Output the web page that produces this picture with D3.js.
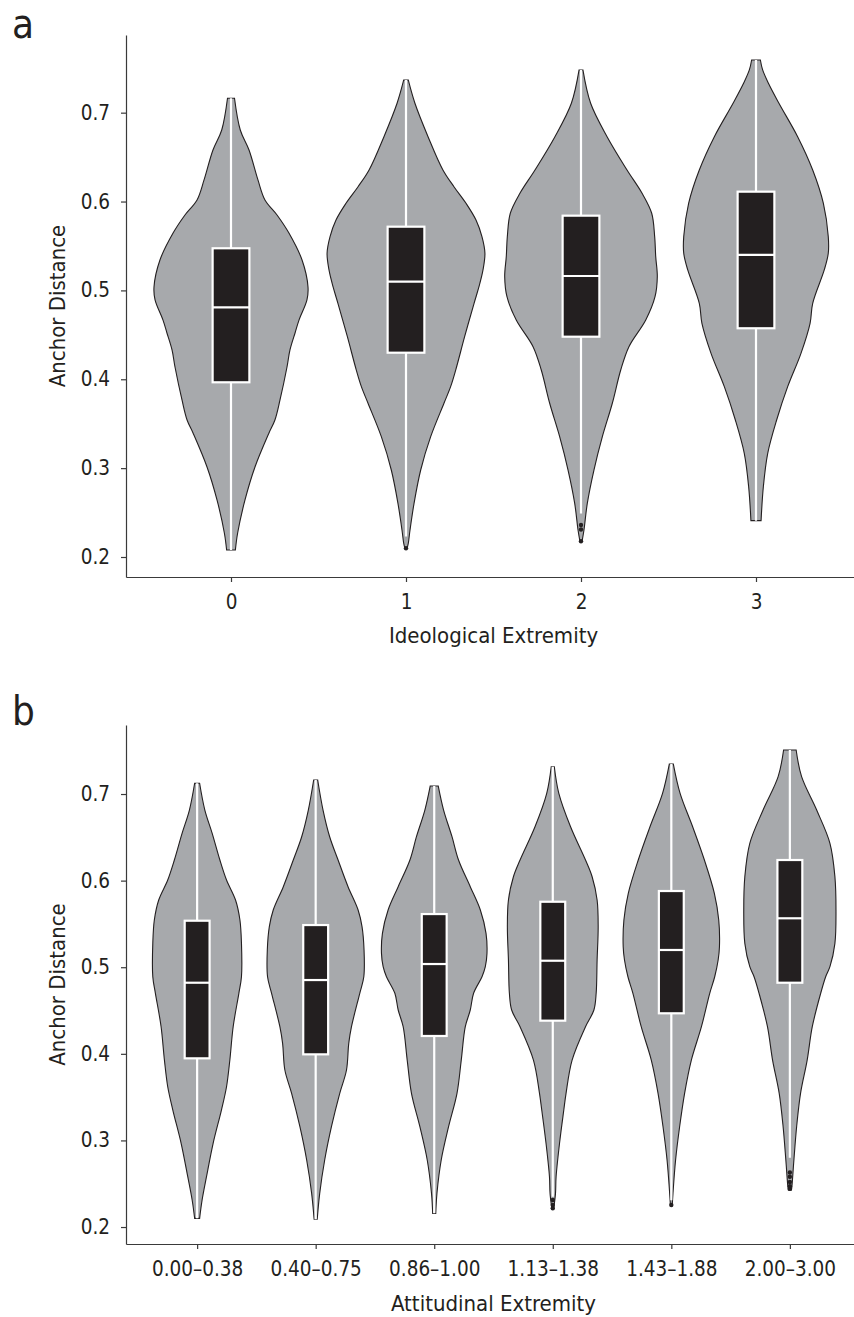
<!DOCTYPE html>
<html lang="en">
<head>
<meta charset="UTF-8">
<title>Anchor Distance by Extremity</title>
<script src="https://d3js.org/d3.v7.min.js"></script>
<style>
    body { margin: 0; background: #fff; }
    svg text {
        font-family: "DejaVu Sans Condensed", "DejaVu Sans", sans-serif;
        font-stretch: condensed;
        fill: #231f20;
    }
    .axis path, .axis line { stroke: #3a3a3a; stroke-width: 1.2; }
    .axis text { font-size: 20.5px; }
</style>
</head>
<body>
<svg width="854" height="1317"></svg>
<script>
// tick values (shared by both panels)
const yTicks = [0.2, 0.3, 0.4, 0.5, 0.6, 0.7];

// ---- panel a : Ideological Extremity ----
const catsA = ["0", "1", "2", "3"];
// violin outlines: [anchor distance, half width in category units]
const violinA0 = [[0.7162,0.020],[0.6805,0.053],[0.658,0.103],[0.6243,0.154],[0.6018,0.194],[0.5849,0.263],[0.5646,0.331],
    [0.5342,0.406],[0.5039,0.440],[0.4893,0.434],[0.4668,0.389],[0.4521,0.366],[0.433,0.337],[0.4138,0.320],
    [0.3767,0.280],[0.3542,0.251],[0.3396,0.217],[0.3013,0.137],[0.2642,0.080],[0.227,0.038],[0.2079,0.025]];
const violinA1 = [[0.7368,0.013],[0.7106,0.051],[0.673,0.126],[0.6355,0.211],[0.6167,0.274],[0.598,0.343],[0.5792,0.400],
    [0.5605,0.434],[0.5418,0.451],[0.523,0.440],[0.5042,0.417],[0.4855,0.389],[0.4479,0.335],[0.4104,0.284],
    [0.3917,0.255],[0.373,0.217],[0.3354,0.141],[0.2979,0.084],[0.2604,0.046],[0.2304,0.023],[0.2154,0.013],[0.2098,0.006]];
const violinA2 = [[0.7481,0.011],[0.7106,0.055],[0.673,0.149],[0.6355,0.263],[0.6093,0.349],[0.5868,0.404],[0.5605,0.421],
    [0.538,0.427],[0.5154,0.436],[0.4929,0.423],[0.4667,0.370],[0.4367,0.274],[0.4104,0.227],[0.373,0.179],
    [0.3354,0.122],[0.2979,0.074],[0.2604,0.036],[0.2304,0.017],[0.2177,0.006]];
const violinA3 = [[0.7593,0.025],[0.7481,0.038],[0.7331,0.071],[0.7106,0.131],[0.673,0.238],[0.6355,0.324],[0.598,0.385],
    [0.5605,0.413],[0.5418,0.413],[0.523,0.390],[0.4855,0.324],[0.463,0.309],[0.4292,0.257],[0.3917,0.181],
    [0.3542,0.118],[0.3167,0.067],[0.2791,0.042],[0.2409,0.029]];
const q1A = [0.3966, 0.4299, 0.4479, 0.4574];
const medA = [0.4810, 0.5098, 0.5162, 0.5399];
const q3A = [0.5474, 0.5717, 0.5841, 0.6111];
const lowA = [0.2079, 0.223, 0.249, 0.2409];
const highA = [0.7162, 0.7368, 0.7481, 0.7593];
const outA = [[], [0.2098], [0.236, 0.231, 0.2177], []];

// ---- panel b : Attitudinal Extremity ----
const catsB = ["0.00\u20130.38", "0.40\u20130.75", "0.86\u20131.00", "1.13\u20131.38", "1.43\u20131.88", "2.00\u20133.00"];
const violinB0 = [[0.7124,0.021],[0.6815,0.065],[0.6546,0.127],[0.6238,0.192],[0.6007,0.248],[0.5776,0.324],[0.5545,0.361],
    [0.5276,0.374],[0.489,0.374],[0.4699,0.352],[0.4313,0.304],[0.3928,0.276],[0.362,0.248],[0.3351,0.205],
    [0.2967,0.135],[0.2581,0.079],[0.2312,0.042],[0.21,0.021]];
const violinB1 = [[0.7162,0.017],[0.6815,0.062],[0.6507,0.118],[0.6238,0.189],[0.593,0.273],[0.5661,0.358],[0.5468,0.391],
    [0.5199,0.408],[0.489,0.406],[0.4699,0.372],[0.4313,0.302],[0.4121,0.279],[0.3813,0.260],[0.3544,0.203],
    [0.3158,0.133],[0.2774,0.076],[0.2389,0.034],[0.2089,0.013]];
const violinB2 = [[0.7092,0.034],[0.6815,0.079],[0.6507,0.150],[0.6238,0.205],[0.593,0.304],[0.5661,0.389],[0.5391,0.437],
    [0.516,0.445],[0.5006,0.431],[0.489,0.403],[0.4699,0.332],[0.4506,0.304],[0.4313,0.262],[0.3928,0.228],
    [0.3544,0.192],[0.3158,0.121],[0.2774,0.059],[0.2389,0.023],[0.2158,0.013]];
const violinB3 = [[0.7315,0.013],[0.7008,0.051],[0.6622,0.150],[0.6238,0.276],[0.6045,0.332],[0.5776,0.374],[0.5468,0.383],
    [0.5083,0.374],[0.4699,0.366],[0.4506,0.347],[0.4313,0.276],[0.3928,0.163],[0.3544,0.112],[0.3351,0.093],
    [0.2967,0.057],[0.2581,0.028],[0.2389,0.023],[0.2216,0.008]];
const violinB4 = [[0.7346,0.017],[0.7008,0.074],[0.6622,0.180],[0.6238,0.279],[0.5853,0.363],[0.5545,0.400],[0.5237,0.406],
    [0.5083,0.395],[0.489,0.366],[0.4699,0.324],[0.4313,0.254],[0.3928,0.169],[0.3544,0.112],[0.3158,0.070],
    [0.2774,0.036],[0.2389,0.014],[0.2254,0.008]];
const violinB5 = [[0.7508,0.053],[0.72,0.099],[0.6815,0.226],[0.6431,0.338],[0.6045,0.380],[0.5661,0.389],[0.5276,0.380],
    [0.5006,0.338],[0.489,0.302],[0.4699,0.260],[0.4313,0.189],[0.3928,0.146],[0.3544,0.090],[0.3158,0.057],
    [0.2774,0.034],[0.2465,0.017],[0.2427,0.013]];
const q1B = [0.3948, 0.3994, 0.4206, 0.4383, 0.4468, 0.4821];
const medB = [0.4821, 0.4852, 0.5037, 0.5075, 0.5199, 0.5565];
const q3B = [0.5537, 0.5487, 0.5614, 0.5756, 0.5880, 0.6238];
const lowB = [0.21, 0.2089, 0.2158, 0.235, 0.231, 0.28];
const highB = [0.7124, 0.7162, 0.7092, 0.7315, 0.7346, 0.7508];
const outB = [[], [], [], [0.2312, 0.2254, 0.2216], [0.2254], [0.263, 0.258, 0.252, 0.247, 0.244]];

const svg = d3.select("svg");
const boxWidth = 0.21;   // in category units

function drawPanel(p) {
    const x = d3.scalePoint().domain(p.cats).range([p.left, p.right]).padding(0.6);
    const y = d3.scaleLinear().domain(p.yDomain).range([p.bottom, p.top]);
    const step = x.step();
    const g = svg.append("g");

    p.violins.forEach((vd, i) => {
        const cx = x(p.cats[i]);
        const area = d3.area()
            .y(d => y(d[0]))
            .x0(d => cx - d[1] * step)
            .x1(d => cx + d[1] * step)
            .curve(d3.curveCatmullRom.alpha(0.5));
        g.append("path")
            .attr("d", area(vd))
            .attr("fill", "#a7a9ac")
            .attr("stroke", "#231f20")
            .attr("stroke-width", 1.1);

        // whisker
        g.append("line")
            .attr("x1", cx).attr("x2", cx)
            .attr("y1", y(p.low[i])).attr("y2", y(p.high[i]))
            .attr("stroke", "#fff").attr("stroke-width", 2.2);

        // outliers
        g.selectAll(null).data(p.out[i]).enter().append("circle")
            .attr("cx", cx).attr("cy", d => y(d)).attr("r", 2.2)
            .attr("fill", "#231f20");

        // box
        const bw = boxWidth * step;
        g.append("rect")
            .attr("x", cx - bw / 2).attr("width", bw)
            .attr("y", y(p.q3[i])).attr("height", y(p.q1[i]) - y(p.q3[i]))
            .attr("fill", "#231f20").attr("stroke", "#fff").attr("stroke-width", 2.2);
        g.append("line")
            .attr("x1", cx - bw / 2).attr("x2", cx + bw / 2)
            .attr("y1", y(p.med[i])).attr("y2", y(p.med[i]))
            .attr("stroke", "#fff").attr("stroke-width", 2.2);
    });

    // axes
    svg.append("g").attr("class", "axis")
        .attr("transform", `translate(${p.left},0)`)
        .call(d3.axisLeft(y).tickValues(yTicks).tickFormat(d3.format(".1f"))
            .tickSize(5).tickPadding(11).tickSizeOuter(0))
        .call(a => a.selectAll("text").attr("fill", "#231f20"));
    svg.append("g").attr("class", "axis")
        .attr("transform", `translate(0,${p.bottom})`)
        .call(d3.axisBottom(x).tickSize(5).tickPadding(12).tickSizeOuter(0))
        .call(a => a.selectAll("text").attr("fill", "#231f20"));

    // titles
    svg.append("text")
        .attr("x", (p.left + p.right) / 2).attr("y", p.xTitleY)
        .attr("text-anchor", "middle").attr("font-size", 22)
        .text(p.xTitle);
    svg.append("text")
        .attr("transform", `translate(65,${(p.top + p.bottom) / 2}) rotate(-90)`)
        .attr("text-anchor", "middle").attr("font-size", 22)
        .text("Anchor Distance");
    svg.append("text")
        .attr("x", 12).attr("y", p.labelY)
        .attr("font-size", 40)
        .text(p.label);
}

drawPanel({
    label: "a", labelY: 38, cats: catsA, xTitle: "Ideological Extremity", xTitleY: 643,
    left: 126, right: 861, top: 35, bottom: 577, yDomain: [0.1775, 0.7874],
    violins: [violinA0, violinA1, violinA2, violinA3],
    q1: q1A, med: medA, q3: q3A, low: lowA, high: highA, out: outA
});

drawPanel({
    label: "b", labelY: 725, cats: catsB, xTitle: "Attitudinal Extremity", xTitleY: 1311,
    left: 126, right: 861, top: 725, bottom: 1244, yDomain: [0.1804, 0.7797],
    violins: [violinB0, violinB1, violinB2, violinB3, violinB4, violinB5],
    q1: q1B, med: medB, q3: q3B, low: lowB, high: highB, out: outB
});
</script>
</body>
</html>
